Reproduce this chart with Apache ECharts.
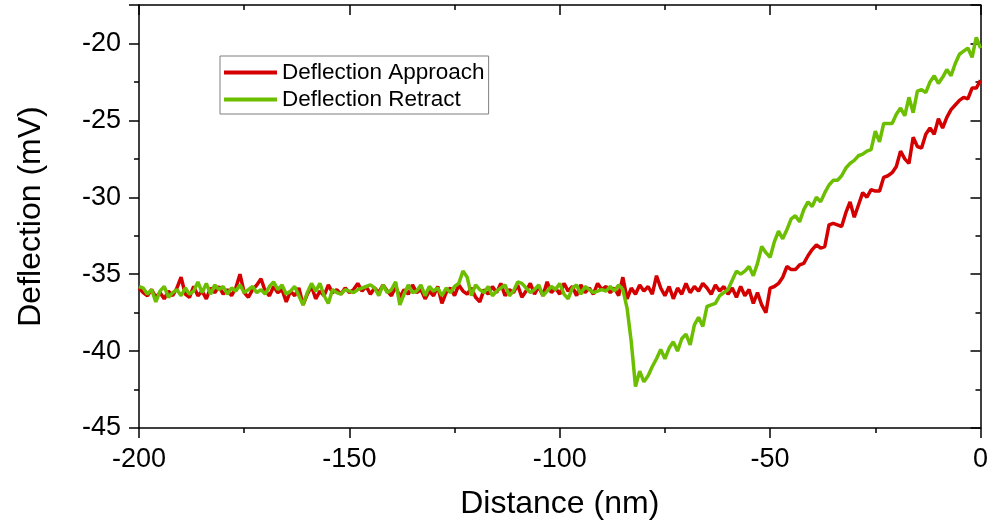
<!DOCTYPE html>
<html>
<head>
<meta charset="utf-8">
<script src="https://cdn.jsdelivr.net/npm/echarts@6/dist/echarts.min.js"></script>
<style>html,body{margin:0;padding:0;background:#fff;}#c{width:991px;height:531px;}</style>
</head>
<body>
<div id="c"></div>
<script>
const distance = [
-200,-199,-198,-197,-196,-195,-194,-193,-192,-191,
-190,-189,-188,-187,-186,-185,-184,-183,-182,-181,
-180,-179,-178,-177,-176,-175,-174,-173,-172,-171,
-170,-169,-168,-167,-166,-165,-164,-163,-162,-161,
-160,-159,-158,-157,-156,-155,-154,-153,-152,-151,
-150,-149,-148,-147,-146,-145,-144,-143,-142,-141,
-140,-139,-138,-137,-136,-135,-134,-133,-132,-131,
-130,-129,-128,-127,-126,-125,-124,-123,-122,-121,
-120,-119,-118,-117,-116,-115,-114,-113,-112,-111,
-110,-109,-108,-107,-106,-105,-104,-103,-102,-101,
-100,-99,-98,-97,-96,-95,-94,-93,-92,-91,
-90,-89,-88,-87,-86,-85,-84,-83,-82,-81,
-80,-79,-78,-77,-76,-75,-74,-73,-72,-71,
-70,-69,-68,-67,-66,-65,-64,-63,-62,-61,
-60,-59,-58,-57,-56,-55,-54,-53,-52,-51,
-50,-49,-48,-47,-46,-45,-44,-43,-42,-41,
-40,-39,-38,-37,-36,-35,-34,-33,-32,-31,
-30,-29,-28,-27,-26,-25,-24,-23,-22,-21,
-20,-19,-18,-17,-16,-15,-14,-13,-12,-11,
-10,-9,-8,-7,-6,-5,-4,-3,-2,-1,
0];
const approach = [
-35.9,-36.2,-36.4,-36.0,-36.5,-36.2,-36.6,-36.1,-36.4,-35.9,
-35.2,-36.3,-36.5,-35.8,-36.4,-36.1,-36.6,-35.9,-36.2,-35.8,
-36.3,-36.0,-36.4,-35.9,-35.0,-36.2,-36.5,-36.0,-35.7,-35.3,
-36.1,-36.4,-35.8,-36.2,-36.0,-36.8,-36.1,-36.4,-35.9,-37.0,
-36.3,-35.8,-36.6,-36.1,-36.4,-35.7,-36.2,-36.0,-36.3,-35.9,
-36.2,-36.0,-35.6,-36.1,-35.8,-36.3,-35.9,-36.2,-35.7,-36.1,
-36.4,-35.8,-36.5,-36.0,-36.3,-35.7,-36.2,-36.0,-36.6,-36.1,
-36.4,-35.8,-36.9,-36.2,-35.9,-36.4,-35.7,-36.1,-36.3,-35.9,
-36.5,-36.8,-36.0,-36.3,-35.8,-36.2,-35.6,-36.4,-36.0,-36.2,
-35.7,-36.5,-36.1,-35.6,-36.3,-35.8,-36.4,-35.5,-36.2,-35.9,
-36.3,-35.6,-36.1,-35.8,-36.4,-35.7,-36.2,-35.9,-36.3,-35.6,
-36.0,-35.8,-36.2,-35.9,-36.4,-35.2,-36.6,-35.9,-36.3,-35.7,
-36.1,-35.8,-36.3,-35.1,-35.9,-36.4,-35.8,-36.6,-35.9,-36.3,
-35.6,-36.2,-35.8,-36.1,-35.6,-35.9,-36.3,-35.7,-36.1,-35.8,
-36.3,-35.9,-36.5,-35.8,-36.4,-36.0,-36.9,-36.2,-37.0,-37.5,
-35.9,-35.8,-35.6,-35.2,-34.5,-34.7,-34.7,-34.4,-34.3,-33.8,
-33.4,-33.1,-33.3,-33.2,-31.8,-31.7,-31.8,-31.9,-31.0,-30.3,
-31.3,-30.5,-29.7,-30.0,-29.5,-29.6,-29.6,-28.7,-28.6,-28.4,
-28.0,-27.0,-27.5,-27.8,-26.1,-26.7,-26.8,-25.9,-25.5,-25.9,
-24.9,-25.5,-24.8,-24.3,-24.0,-23.7,-23.5,-23.6,-22.9,-22.9,
-22.4];
const retract = [
-35.8,-35.9,-36.3,-36.0,-36.8,-36.1,-35.8,-36.5,-36.2,-36.0,
-36.4,-35.9,-36.3,-36.1,-35.5,-36.2,-35.6,-36.3,-35.7,-36.0,
-35.8,-36.3,-35.9,-36.1,-35.7,-36.2,-36.0,-35.8,-36.2,-36.0,
-36.3,-35.8,-35.5,-36.0,-35.7,-36.3,-36.1,-35.8,-36.4,-37.0,
-36.2,-35.6,-36.1,-35.6,-36.4,-36.9,-36.0,-36.2,-36.3,-36.0,
-36.1,-36.2,-36.0,-35.9,-35.8,-35.7,-35.9,-36.4,-35.7,-36.2,
-36.0,-35.5,-37.0,-36.3,-35.7,-36.2,-36.1,-35.7,-36.4,-35.8,
-36.1,-35.9,-36.4,-35.9,-36.2,-35.8,-35.6,-34.8,-35.2,-36.4,
-35.7,-36.0,-36.2,-35.8,-36.4,-36.1,-35.9,-35.7,-36.4,-36.1,
-35.5,-35.6,-35.9,-36.2,-36.0,-35.7,-36.4,-36.1,-35.8,-36.0,
-35.6,-36.3,-36.6,-35.9,-35.7,-36.3,-35.8,-36.0,-36.2,-36.1,
-36.0,-36.1,-35.8,-36.1,-35.7,-36.0,-37.2,-39.4,-42.3,-41.3,
-42.0,-41.6,-41.0,-40.5,-39.9,-40.5,-39.8,-39.4,-40.0,-39.2,
-38.9,-39.6,-38.3,-37.8,-38.4,-37.1,-37.0,-36.9,-36.4,-36.2,
-36.0,-35.4,-34.8,-35.0,-34.8,-34.5,-35.1,-34.3,-33.2,-33.6,
-33.9,-32.9,-32.2,-32.7,-32.1,-31.4,-31.2,-31.6,-30.8,-30.3,
-30.6,-30.0,-30.3,-29.7,-29.2,-28.9,-28.9,-28.6,-28.1,-27.8,
-27.6,-27.3,-27.2,-27.0,-26.9,-25.7,-26.4,-25.2,-25.2,-25.2,
-24.6,-24.2,-24.7,-23.5,-24.5,-23.1,-23.0,-23.2,-22.5,-22.1,
-22.6,-22.2,-21.7,-22.1,-21.3,-20.7,-20.5,-20.3,-20.9,-19.6,
-20.3];
const seriesNames = ['Deflection Approach', 'Deflection Retract'];
const xTitle = 'Distance (nm)';
const yTitle = 'Deflection (mV)';

const FONT = '"Liberation Sans", Arial, sans-serif';
const axisLine = { show: true, onZero: false, lineStyle: { color: '#000', width: 1.5 } };
const chart = echarts.init(document.getElementById('c'), null, { renderer: 'canvas' });
chart.setOption({
  animation: false,
  backgroundColor: '#fff',
  grid: { left: 139, right: 8, top: 5, bottom: 103, containLabel: false },
  legend: {
    left: 220, top: 56,
    orient: 'vertical',
    itemWidth: 53, itemHeight: 4, itemGap: 4,
    padding: [5, 4, 3, 4],
    borderColor: '#7f7f7f', borderWidth: 1,
    icon: 'rect',
    textStyle: { fontFamily: FONT, fontSize: 22.5, color: '#000' },
    data: seriesNames
  },
  xAxis: [{
    type: 'value', min: -200, max: 0, interval: 50, position: 'bottom',
    name: xTitle, nameLocation: 'middle', nameGap: 60,
    nameTextStyle: { fontFamily: FONT, fontSize: 32, color: '#000' },
    axisLine: axisLine,
    axisTick: { show: true, inside: false, length: 10, lineStyle: { color: '#000', width: 1.5 } },
    minorTick: { show: true, splitNumber: 2, length: 5, lineStyle: { color: '#000', width: 1.5 } },
    axisLabel: { fontFamily: FONT, fontSize: 27, color: '#000', margin: 18 },
    splitLine: { show: false }
  }, {
    type: 'value', min: -200, max: 0, interval: 50, position: 'top',
    axisLine: axisLine,
    axisTick: { show: true, inside: true, length: 10, lineStyle: { color: '#000', width: 1.5 } },
    minorTick: { show: true, splitNumber: 2, length: 5, lineStyle: { color: '#000', width: 1.5 } },
    axisLabel: { show: false },
    splitLine: { show: false }
  }],
  yAxis: [{
    type: 'value', min: -45, max: -17.5, interval: 5, position: 'left',
    name: yTitle, nameLocation: 'middle', nameGap: 92, nameRotate: 90,
    nameTextStyle: { fontFamily: FONT, fontSize: 32, color: '#000' },
    axisLine: axisLine,
    axisTick: { show: true, inside: false, length: 10, lineStyle: { color: '#000', width: 1.5 } },
    minorTick: { show: true, splitNumber: 2, length: 5, lineStyle: { color: '#000', width: 1.5 } },
    axisLabel: { fontFamily: FONT, fontSize: 27, color: '#000', margin: 18, showMaxLabel: false },
    splitLine: { show: false }
  }, {
    type: 'value', min: -45, max: -17.5, interval: 5, position: 'right',
    axisLine: axisLine,
    axisTick: { show: true, inside: true, length: 10, lineStyle: { color: '#000', width: 1.5 } },
    minorTick: { show: true, splitNumber: 2, length: 5, lineStyle: { color: '#000', width: 1.5 } },
    axisLabel: { show: false },
    splitLine: { show: false }
  }],
  series: [{
    name: seriesNames[0], type: 'line', xAxisIndex: 0, yAxisIndex: 0,
    showSymbol: false, symbol: 'none',
    lineStyle: { color: '#d40000', width: 3.5 }, itemStyle: { color: '#d40000' },
    data: distance.map((d, i) => [d, approach[i]])
  }, {
    name: seriesNames[1], type: 'line', xAxisIndex: 0, yAxisIndex: 0,
    showSymbol: false, symbol: 'none',
    lineStyle: { color: '#6cbe00', width: 3.5 }, itemStyle: { color: '#6cbe00' },
    data: distance.map((d, i) => [d, retract[i]])
  }]
});
</script>
</body>
</html>
